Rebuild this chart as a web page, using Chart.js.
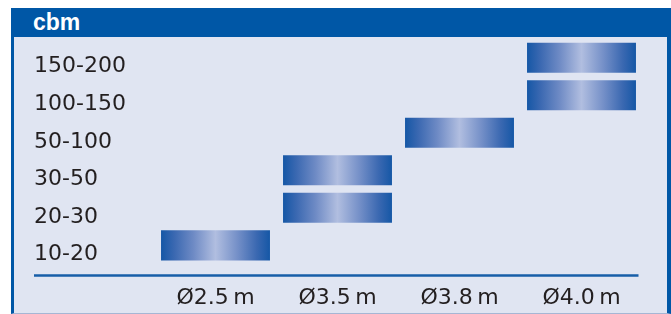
<!DOCTYPE html>
<html lang="en">
<head>
    <meta charset="UTF-8">
    <title>cbm by diameter</title>
    <script src="https://cdn.jsdelivr.net/npm/chart.js"></script>
    <style>
        body { margin: 0; background: #fff; }
        .wrap { position: relative; width: 671px; height: 314px; overflow: hidden; }
        .frame {
            position: absolute; left: 11px; top: 8px; width: 653px; height: 305px;
            background: #e0e5f2;
            border-left: 3px solid #0057a6;
            border-right: 4px solid #0057a6;
            border-bottom: 1px solid #a6b6d4;
        }
        .header {
            position: absolute; left: 11px; top: 8px; width: 660px; height: 29px;
            background: #0057a6; color: #fff;
            font: bold 23px "Liberation Sans", Arial, sans-serif;
            line-height: 29px; padding-left: 22px; box-sizing: border-box;
        }
        canvas { position: absolute; left: 0; top: 0; }
    </style>
</head>
<body>
    <div class="wrap">
        <div class="frame"></div>
        <div class="header">cbm</div>
        <canvas id="chart" width="671" height="314"></canvas>
    </div>

    <script>
        // diameters along the bottom, volume classes up the side
        const diameters = ["Ø2.5\u2009m", "Ø3.5\u2009m", "Ø3.8\u2009m", "Ø4.0\u2009m"];
        const volumeRanges = ["10-20", "20-30", "30-50", "50-100", "100-150", "150-200"];
        // which volume class(es) each diameter covers
        const lowerRange = ["10-20", "20-30", "50-100", "100-150"];
        const upperRange = [null, "30-50", null, "150-200"];

        const HALF_BAR = 0.4;
        const BAR_PCT = 0.893;
        const TEXT = "#231f20";
        const BLUE = "#0057a6";

        function toBars(list) {
            return list.map(r => {
                if (!r) return null;
                const i = volumeRanges.indexOf(r);
                return [i - HALF_BAR, i + HALF_BAR];
            });
        }

        function barGradient(c) {
            const chart = c.chart;
            const xs = chart.scales.x;
            if (c.type !== "data" || !xs || !xs.ticks.length) return BLUE;
            const cx = xs.getPixelForValue(c.dataIndex);
            const half = xs.width / xs.ticks.length * BAR_PCT / 2;
            const g = chart.ctx.createLinearGradient(cx - half, 0, cx + half, 0);
            g.addColorStop(0, "#1557a6");
            g.addColorStop(0.12, "#3a68b1");
            g.addColorStop(0.3, "#6f8bc5");
            g.addColorStop(0.5, "#b1bee0");
            g.addColorStop(0.7, "#7590c8");
            g.addColorStop(0.88, "#3a68b1");
            g.addColorStop(1, "#1557a6");
            return g;
        }

        const axisLine = {
            id: "axisLine",
            afterDatasetsDraw(chart) {
                const { ctx, chartArea, scales } = chart;
                ctx.save();
                ctx.strokeStyle = "#175ea8";
                ctx.lineWidth = 2.5;
                ctx.beginPath();
                ctx.moveTo(scales.y.left, chartArea.bottom);
                ctx.lineTo(chartArea.right - 4, chartArea.bottom);
                ctx.stroke();
                ctx.restore();
            }
        };

        const dsCommon = {
            backgroundColor: barGradient,
            borderWidth: 0,
            grouped: false,
            categoryPercentage: 1,
            barPercentage: BAR_PCT
        };

        new Chart(document.getElementById("chart"), {
            type: "bar",
            data: {
                labels: diameters,
                datasets: [
                    { label: "lower", data: toBars(lowerRange), ...dsCommon },
                    { label: "upper", data: toBars(upperRange), ...dsCommon }
                ]
            },
            options: {
                responsive: false,
                animation: false,
                layout: { padding: { left: 34, top: 39, right: 28.5, bottom: 0 } },
                plugins: { legend: { display: false }, tooltip: { enabled: false } },
                scales: {
                    x: {
                        grid: { display: false },
                        border: { display: false },
                        ticks: { color: TEXT, font: { family: "DejaVu Sans", size: 22 }, padding: 2 },
                        afterFit(scale) { scale.height = 38.6; }
                    },
                    y: {
                        min: -0.8,
                        max: 5.5,
                        grid: { display: false },
                        border: { display: false },
                        afterBuildTicks(scale) {
                            scale.ticks = volumeRanges.map((_, i) => ({ value: i }));
                        },
                        afterFit(scale) { scale.width = 120.5; },
                        ticks: {
                            color: TEXT,
                            font: { family: "DejaVu Sans", size: 22 },
                            crossAlign: "far",
                            labelOffset: 9,
                            callback: v => volumeRanges[v]
                        }
                    }
                }
            },
            plugins: [axisLine]
        });
    </script>
</body>
</html>
